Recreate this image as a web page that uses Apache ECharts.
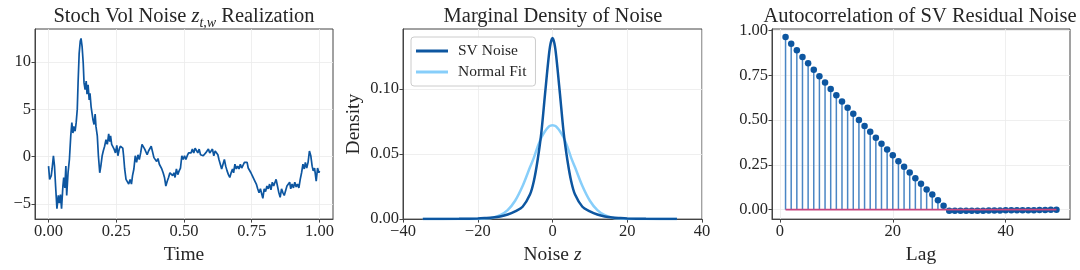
<!DOCTYPE html>
<html>
<head>
<meta charset="utf-8">
<script src="https://cdn.jsdelivr.net/npm/echarts@6/dist/echarts.min.js"></script>
<style>html,body{margin:0;padding:0;background:#fff}#c{width:1080px;height:270px}</style>
</head>
<body>
<div id="c"></div>
<script>
// ---------- Data ----------
const timeVals = [0.000,0.004,0.010,0.013,0.018,0.022,0.026,0.031,0.036,0.040,0.044,0.048,0.053,0.056,0.060,0.064,0.067,0.072,0.077,0.082,0.086,0.090,0.093,0.098,0.102,0.106,0.109,0.113,0.117,0.120,0.124,0.128,0.131,0.135,0.139,0.142,0.146,0.150,0.153,0.157,0.161,0.164,0.168,0.172,0.175,0.180,0.184,0.189,0.193,0.198,0.202,0.207,0.212,0.217,0.222,0.226,0.229,0.233,0.237,0.242,0.247,0.252,0.256,0.261,0.265,0.269,0.274,0.277,0.281,0.286,0.291,0.296,0.301,0.306,0.310,0.315,0.320,0.325,0.330,0.335,0.340,0.345,0.350,0.355,0.360,0.364,0.369,0.374,0.379,0.384,0.389,0.394,0.399,0.404,0.409,0.413,0.418,0.423,0.428,0.433,0.438,0.443,0.448,0.453,0.458,0.463,0.467,0.472,0.477,0.482,0.487,0.492,0.497,0.502,0.507,0.512,0.517,0.521,0.526,0.531,0.536,0.541,0.546,0.551,0.556,0.561,0.566,0.571,0.575,0.580,0.585,0.590,0.595,0.600,0.605,0.610,0.615,0.620,0.625,0.629,0.634,0.639,0.644,0.649,0.654,0.659,0.664,0.669,0.674,0.679,0.683,0.688,0.693,0.698,0.703,0.708,0.713,0.718,0.723,0.728,0.733,0.737,0.742,0.747,0.752,0.757,0.762,0.767,0.772,0.777,0.782,0.787,0.791,0.796,0.801,0.806,0.811,0.816,0.821,0.826,0.831,0.836,0.840,0.845,0.850,0.855,0.860,0.865,0.870,0.875,0.880,0.885,0.890,0.894,0.899,0.904,0.909,0.914,0.919,0.924,0.929,0.934,0.939,0.944,0.948,0.953,0.958,0.963,0.968,0.973,0.977,0.982,0.988,0.993,0.998,1.000];
const noiseVals = [-1.0,-2.4,-2.0,-1.3,0.1,-1.0,-3.1,-5.5,-4.1,-4.9,-4.0,-5.5,-3.1,-2.2,-3.3,-1.0,-4.1,-1.7,-0.3,2.2,3.6,2.5,3.2,2.7,3.6,5.0,7.8,10.9,12.2,12.5,11.6,9.9,7.8,7.1,8.0,6.6,7.6,6.0,6.7,5.3,4.5,3.9,3.4,4.5,3.2,2.2,0.1,-1.7,-1.0,0.1,0.6,1.1,1.8,1.3,2.4,1.6,2.2,1.3,1.1,0.8,0.4,1.2,0.1,0.8,1.1,1.2,0.9,0.1,-1.3,-2.4,-2.2,-2.9,-2.4,-2.9,-2.0,-1.3,0.1,-0.6,0.2,-0.3,0.4,1.3,1.1,0.8,0.9,0.2,0.6,0.4,1.1,0.9,-0.1,0.1,-0.5,-0.2,-0.8,-0.6,-1.3,-1.7,-2.2,-3.1,-2.6,-2.2,-1.7,-1.5,-2.0,-1.7,-2.2,-1.3,-1.9,-1.5,-1.2,0.1,-0.3,0.1,-0.3,0.1,0.4,0.6,0.4,0.8,0.4,0.9,1.1,0.4,0.8,0.2,0.4,0.1,-0.1,0.4,0.6,0.8,0.4,0.6,0.8,0.1,0.6,0.4,0.2,-0.3,-0.8,-1.3,-1.2,-0.3,-1.0,-1.5,-1.9,-2.2,-1.7,-1.3,-1.7,-0.8,-1.3,-1.0,-1.3,-0.8,-1.2,-1.0,-0.6,-0.5,-0.6,-1.2,-1.0,-1.7,-2.0,-2.2,-2.6,-2.9,-3.4,-3.8,-3.4,-3.6,-4.4,-3.4,-3.7,-3.1,-3.4,-2.9,-3.5,-2.7,-3.1,-2.7,-2.4,-3.1,-3.8,-4.3,-3.4,-3.8,-4.1,-3.6,-3.1,-3.3,-2.7,-3.4,-2.9,-3.3,-2.7,-3.2,-2.9,-3.3,-2.4,-1.7,-0.8,-1.3,-0.6,-1.2,-0.6,0.6,0.1,-1.0,-1.5,-1.2,-2.6,-1.2,-1.7,-1.5];

const densX   = [-34.7,-25,-20,-18,-16,-14,-12,-10,-8,-6,-5,-4,-3,-2,-1,-0.5,0,0.5,1,2,3,4,5,6,8,10,12,14,16,18,20,25,33.3];
const svDens  = [0,0.0002,0.0005,0.0008,0.0012,0.002,0.0035,0.006,0.0095,0.019,0.029,0.045,0.066,0.096,0.125,0.135,0.139,0.135,0.125,0.096,0.066,0.045,0.029,0.019,0.0095,0.006,0.0035,0.002,0.0012,0.0008,0.0005,0.0002,0];
const normDens= [0,0,0.0001,0.0004,0.0011,0.003,0.0069,0.0141,0.0254,0.040,0.047,0.0555,0.0625,0.0675,0.071,0.0718,0.072,0.0718,0.071,0.0675,0.0625,0.0555,0.047,0.040,0.0254,0.0141,0.0069,0.003,0.0011,0.0004,0.0001,0,0];

const lags = [1,2,3,4,5,6,7,8,9,10,11,12,13,14,15,16,17,18,19,20,21,22,23,24,25,26,27,28,29,30,31,32,33,34,35,36,37,38,39,40,41,42,43,44,45,46,47,48,49];
const acfVals = [0.964,0.925,0.890,0.852,0.817,0.780,0.744,0.709,0.673,0.638,0.604,0.569,0.535,0.500,0.466,0.435,0.401,0.368,0.336,0.304,0.270,0.239,0.207,0.175,0.144,0.112,0.084,0.052,0.022,-0.007,-0.007,-0.007,-0.006,-0.006,-0.006,-0.006,-0.005,-0.005,-0.005,-0.004,-0.004,-0.004,-0.003,-0.003,-0.003,-0.002,-0.002,-0.001,-0.001];

const xTicks1 = [0,0.25,0.5,0.75,1.0];
const yTicks1 = [-5,0,5,10];
const xTicks2 = [-40,-20,0,20,40];
const yTicks2 = [0,0.05,0.10];
const xTicks3 = [0,20,40];
const yTicks3 = [0,0.25,0.5,0.75,1.0];

// ---------- Style ----------
const FONT = '"Liberation Serif","DejaVu Serif",serif';
const TXT = '#262626';
const DARK = '#0d56a0';
const LIGHT = '#87cefa';
const STEM = '#4a86c4';
const BASE = '#c8457e';
const GRIDC = '#ebebeb';
const TITLE_FS = 20.5;

const fmtNum = (d)=> (v)=> { const s = Number(v).toFixed(d); return s.replace('-', '\u2212'); };

function axisCommon(ticks, formatter, extra) {
  return Object.assign({
    type: 'value',
    axisLine: { show: true, onZero: false, lineStyle: { color: '#444', width: 1 } },
    axisTick: { show: true, inside: false, length: 3.5, lineStyle: { color: '#444' }, customValues: ticks },
    axisLabel: { show: true, color: TXT, fontFamily: FONT, fontSize: 16.5, margin: 4, customValues: ticks, formatter: formatter },
    splitLine: { show: true, lineStyle: { color: GRIDC, width: 0.8 } },
    nameTextStyle: { color: TXT, fontFamily: FONT, fontSize: 19.5 }
  }, extra);
}

const grids = [
  { left: 35, top: 29, width: 298, height: 191 },
  { left: 403, top: 29, width: 299, height: 191 },
  { left: 772, top: 29, width: 298, height: 191 }
].map(g => Object.assign(g, { show: true, borderColor: '#444', borderWidth: 1, backgroundColor: 'transparent', containLabel: false }));

const option = {
  animation: false,
  backgroundColor: '#fff',
  textStyle: { fontFamily: FONT },
  grid: grids,
  xAxis: [
    axisCommon(xTicks1, fmtNum(2), { gridIndex: 0, min: -0.05, max: 1.05, name: 'Time', nameLocation: 'middle', nameGap: 25 }),
    axisCommon(xTicks2, fmtNum(0), { gridIndex: 1, min: -40, max: 40, name: '{n|Noise }{i|z}', nameLocation: 'middle', nameGap: 25,
      nameTextStyle: { color: TXT, fontFamily: FONT, fontSize: 19.5, rich: { n: { fontFamily: FONT, fontSize: 19.5, color: TXT }, i: { fontFamily: FONT, fontSize: 19.5, color: TXT, fontStyle: 'italic' } } } }),
    axisCommon(xTicks3, fmtNum(0), { gridIndex: 2, min: -1.4, max: 51.4, name: 'Lag', nameLocation: 'middle', nameGap: 25 })
  ],
  yAxis: [
    axisCommon(yTicks1, fmtNum(0), { gridIndex: 0, min: -6.6, max: 13.5 }),
    axisCommon(yTicks2, fmtNum(2), { gridIndex: 1, min: 0, max: 0.146, name: 'Density', nameLocation: 'middle', nameGap: 39, nameRotate: 90 }),
    axisCommon(yTicks3, fmtNum(2), { gridIndex: 2, min: -0.053, max: 1.008 })
  ],
  legend: {
    show: true, orient: 'vertical', left: 411, top: 37,
    padding: [6, 9, 6, 5], itemGap: 5, itemWidth: 32, itemHeight: 3,
    borderColor: '#cccccc', borderWidth: 1, borderRadius: 3, backgroundColor: 'rgba(255,255,255,0.85)',
    textStyle: { fontFamily: FONT, fontSize: 15.5, color: TXT, padding: [0, 0, 0, 5] },
    data: [{ name: 'SV Noise', icon: 'rect' }, { name: 'Normal Fit', icon: 'rect' }]
  },
  series: [
    { type: 'line', xAxisIndex: 0, yAxisIndex: 0, data: timeVals.map((t, i) => [t, noiseVals[i]]), showSymbol: false, symbol: 'none',
      lineStyle: { color: DARK, width: 1.7 }, itemStyle: { color: DARK } },
    { name: 'SV Noise', type: 'line', xAxisIndex: 1, yAxisIndex: 1, data: densX.map((x, i) => [x, svDens[i]]), smooth: 0.3, symbol: 'none',
      lineStyle: { color: DARK, width: 2.5 }, itemStyle: { color: DARK }, z: 3 },
    { name: 'Normal Fit', type: 'line', xAxisIndex: 1, yAxisIndex: 1, data: densX.map((x, i) => [x, normDens[i]]), smooth: 0.3, symbol: 'none',
      lineStyle: { color: LIGHT, width: 2.5 }, itemStyle: { color: LIGHT }, z: 2 },
    { type: 'bar', xAxisIndex: 2, yAxisIndex: 2, data: lags.map((l, i) => [l, acfVals[i]]), barWidth: 1.5,
      itemStyle: { color: STEM }, z: 2 },
    { type: 'scatter', xAxisIndex: 2, yAxisIndex: 2, data: lags.map((l, i) => [l, acfVals[i]]), symbol: 'circle', symbolSize: 6.5,
      itemStyle: { color: DARK, opacity: 1 }, z: 3 },
    { type: 'line', xAxisIndex: 2, yAxisIndex: 2, data: [[lags[0], 0], [lags[lags.length - 1], 0]], symbol: 'none',
      lineStyle: { color: BASE, width: 1.8 }, z: 4 }
  ],
  graphic: [
    { type: 'text', x: 184, y: 17, style: { text: '{n|Stoch Vol Noise }{i|z}{s|t,w}{n| Realization}', align: 'center', verticalAlign: 'middle',
      rich: { n: { fontFamily: FONT, fontSize: TITLE_FS, fill: TXT, lineHeight: 26 },
              i: { fontFamily: FONT, fontSize: TITLE_FS, fill: TXT, fontStyle: 'italic', lineHeight: 26 },
              s: { fontFamily: FONT, fontSize: 14, fill: TXT, fontStyle: 'italic', lineHeight: 12, verticalAlign: 'bottom' } } } },
    { type: 'text', x: 553, y: 17, style: { text: 'Marginal Density of Noise', align: 'center', verticalAlign: 'middle', font: TITLE_FS + 'px ' + FONT, fill: TXT } },
    { type: 'text', x: 920, y: 17, style: { text: 'Autocorrelation of SV Residual Noise', align: 'center', verticalAlign: 'middle', font: TITLE_FS + 'px ' + FONT, fill: TXT } }
  ]
};

const chart = echarts.init(document.getElementById('c'), null, { renderer: 'canvas' });
chart.setOption(option);
</script>
</body>
</html>
